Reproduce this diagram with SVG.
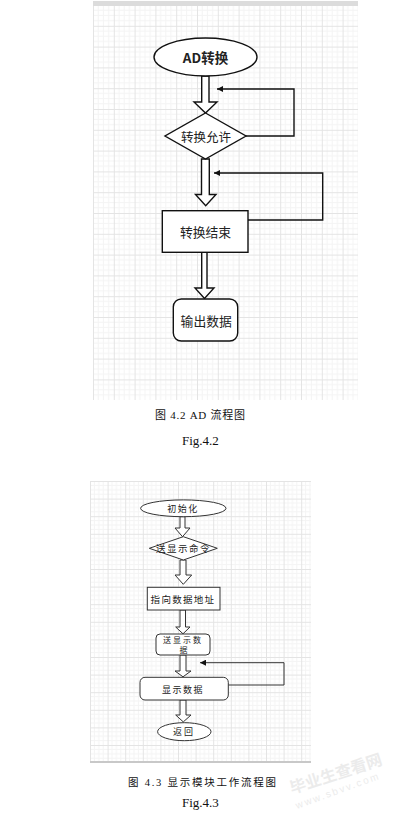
<svg xmlns="http://www.w3.org/2000/svg" width="409" height="820" viewBox="0 0 409 820">
<defs>
<pattern id="g1" patternUnits="userSpaceOnUse" x="93" y="5" width="20.8" height="20.8">
<path d="M5.2 0V20.8M10.4 0V20.8M15.6 0V20.8M0 5.2H20.8M0 10.4H20.8M0 15.6H20.8" stroke="#f4f4f4" stroke-width="1" fill="none"/>
<path d="M0.5 0V20.8M0 0.5H20.8" stroke="#e4e4e4" stroke-width="1" fill="none"/>
</pattern>
<pattern id="g2" patternUnits="userSpaceOnUse" x="90" y="481" width="17.6" height="17.6">
<path d="M4.4 0V17.6M8.8 0V17.6M13.2 0V17.6M0 4.4H17.6M0 8.8H17.6M0 13.2H17.6" stroke="#f4f4f4" stroke-width="1" fill="none"/>
<path d="M0.5 0V17.6M0 0.5H17.6" stroke="#e4e4e4" stroke-width="1" fill="none"/>
</pattern>
<marker id="ah" viewBox="0 0 10 10" refX="10" refY="5" markerWidth="6" markerHeight="6" orient="auto" markerUnits="userSpaceOnUse">
<path d="M0 0L10 5L0 10Z" fill="#111"/>
</marker>
</defs>
<style>
.s{fill:#fff;stroke:#111;stroke-width:1.4}
.s2{fill:#fff;stroke:#333;stroke-width:1}
.fb{fill:none;stroke:#111;stroke-width:1.4}
.fb2{fill:none;stroke:#333;stroke-width:1}
.t{font-family:"Noto Sans CJK SC","Noto Sans",sans-serif;fill:#222;text-anchor:middle;dominant-baseline:central}
.cap{font-family:"Liberation Serif","Noto Sans CJK SC",serif;fill:#111}
</style>
<rect width="409" height="820" fill="#fff"/>
<rect x="93" y="5" width="265" height="395" fill="url(#g1)"/>
<rect x="93" y="1" width="265" height="5" fill="#dcdcdc"/>
<rect x="90" y="481" width="221" height="281" fill="url(#g2)"/>
<rect x="90" y="761" width="221" height="2" fill="#c8c8c8"/>

<g id="connectors">
<polygon class="s" points="201.7,76 201.7,102 194,102 205.5,113 217,102 209,102 209,76"/>
<polygon class="s" points="201.5,159 201.5,194.5 195.5,194.5 205.7,205.7 216,194.5 209.3,194.5 209.3,159"/>
<polygon class="s" points="201.7,252.3 201.7,288 195,288 204.5,298.5 214,288 207,288 207,252.3"/>
<polyline class="fb" points="246,136 294,136 294,89 217,89" marker-end="url(#ah)"/>
<polyline class="fb" points="248,220 322.7,220 322.7,173 214,173" marker-end="url(#ah)"/>

<polygon class="s2" points="180,516.7 180,528 175,528 182.5,536.7 190,528 185,528 185,516.7"/>
<polygon class="s2" points="180,560 180,575 175,575 183.3,584.3 191.7,575 186,575 186,560"/>
<polygon class="s2" points="180,610 180,627 175.7,627 183,633.8 190,627 185.5,627 185.5,610"/>
<polygon class="s2" points="180,655 180,671 175,671 183,676.8 191,671 186,671 186,655"/>
<polygon class="s2" points="180,700 180,715 175.7,715 183.3,721.9 191,715 186,715 186,700"/>
<polyline class="fb2" points="228.3,685 284,685 284,662.7 200,662.7" marker-end="url(#ah)"/>
</g>

<g id="n-ad">
<ellipse class="s" cx="205.5" cy="57" rx="51.5" ry="19"/>
<text class="t" x="205.5" y="57" font-size="13.5" font-weight="bold" fill="#111">AD转换</text>
</g>
<g id="n-allow">
<polygon class="s" points="205.5,113 246,136 205.5,159 165,136"/>
<text class="t" x="206" y="136" font-size="12.5">转换允许</text>
</g>
<g id="n-end">
<rect class="s" x="162.3" y="210.7" width="85.7" height="41.6"/>
<text class="t" x="205.5" y="231.7" font-size="12.8">转换结束</text>
</g>
<g id="n-out">
<rect class="s" x="173.3" y="299" width="64.4" height="42" rx="8"/>
<text class="t" x="206.2" y="320" font-size="12.8">输出数据</text>
</g>

<g id="n-init">
<ellipse class="s2" cx="183.3" cy="508.3" rx="42.7" ry="8.4"/>
<text class="t" x="183" y="508" font-size="9" letter-spacing="1.5">初始化</text>
</g>
<g id="n-cmd">
<polygon class="s2" points="183.3,536.7 217.3,548.3 183.3,560 149.3,548.3"/>
<text class="t" x="183.5" y="548" font-size="9.5" letter-spacing="1.5">送显示命令</text>
</g>
<g id="n-addr">
<rect class="s2" x="147.3" y="587.3" width="72.7" height="22.7"/>
<text class="t" x="183" y="598.5" font-size="9.5" letter-spacing="1.3">指向数据地址</text>
</g>
<g id="n-send">
<rect class="s2" x="156" y="634" width="54" height="21" rx="4"/>
<text class="t" x="183" y="639.8" font-size="8" letter-spacing="2">送显示数</text>
<text class="t" x="183.5" y="649.6" font-size="8">据</text>
</g>
<g id="n-show">
<rect class="s2" x="140" y="677.3" width="88.3" height="22.7" rx="5"/>
<text class="t" x="183" y="689" font-size="9" letter-spacing="1.5">显示数据</text>
</g>
<g id="n-ret">
<ellipse class="s2" cx="184.3" cy="731.7" rx="26.7" ry="9"/>
<text class="t" x="184" y="731.5" font-size="9" letter-spacing="2">返回</text>
</g>

<text class="cap" x="155" y="419" font-size="11" textLength="90" lengthAdjust="spacing">图 4.2 AD 流程图</text>
<text class="cap" x="182" y="445" font-size="13">Fig.4.2</text>
<text class="cap" x="128" y="786" font-size="10.5" textLength="148" lengthAdjust="spacing">图 4.3 显示模块工作流程图</text>
<text class="cap" x="182" y="807" font-size="13">Fig.4.3</text>

<g opacity="0.4">
<text x="292" y="794" transform="rotate(-18 292 794)" font-family="Noto Sans CJK SC,sans-serif" font-size="16" font-weight="bold" fill="#cfcfcf">毕业生查看网</text>
<text x="297" y="809" transform="rotate(-20 297 809)" font-family="Liberation Sans,sans-serif" font-size="10" letter-spacing="2" fill="#cfcfcf">www.sbvv.com</text>
</g>
</svg>
